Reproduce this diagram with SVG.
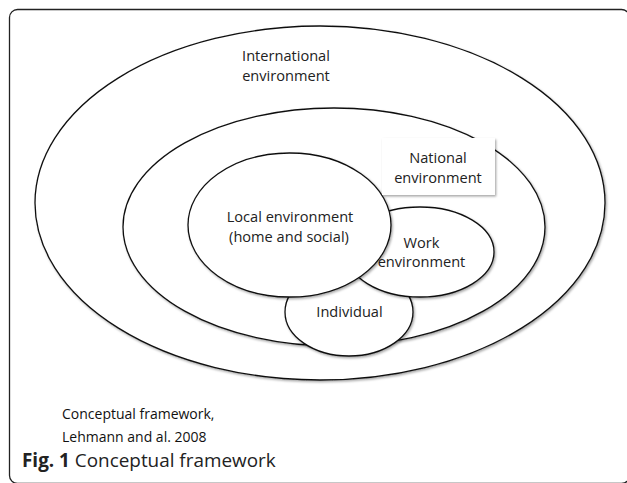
<svg xmlns="http://www.w3.org/2000/svg" width="627" height="483" viewBox="0 0 627 483">
<defs>
<filter id="sh" x="-10%" y="-10%" width="120%" height="120%">
<feDropShadow dx="1.2" dy="1.5" stdDeviation="0.8" flood-color="#000" flood-opacity="0.35"/>
</filter>
<style>
.e{fill:#fff;stroke:#111;stroke-width:1.3;filter:url(#sh)}
.t{font-family:"Open Sans","Liberation Sans",sans-serif;font-size:14.6px;fill:#222;text-anchor:middle}
.c{font-family:"Open Sans","Liberation Sans",sans-serif;font-size:14px;fill:#111}
.f{font-family:"Open Sans","Liberation Sans",sans-serif;font-size:18.9px;fill:#222}
</style>
</defs>
<rect x="9.5" y="9.5" width="620" height="474" rx="8" fill="#fff" stroke="#222" stroke-width="1.3"/>
<g id="international">
<ellipse class="e" cx="320" cy="203" rx="285" ry="177"/>
<text class="t" x="286" y="61">International</text>
<text class="t" x="286" y="81">environment</text>
</g>
<g id="national">
<ellipse class="e" cx="334" cy="227" rx="211" ry="119"/>
</g>
<g id="individual">
<ellipse class="e" cx="349" cy="312" rx="64" ry="44"/>
<text class="t" x="349.5" y="316.5">Individual</text>
</g>
<g id="work">
<ellipse class="e" cx="420" cy="252" rx="74" ry="45"/>
<text class="t" x="421.5" y="248">Work</text>
<text class="t" x="421.5" y="267">environment</text>
</g>
<g id="local">
<ellipse class="e" cx="289.5" cy="225" rx="101.5" ry="72"/>
<text class="t" x="290" y="222">Local environment</text>
<text class="t" x="289" y="242">(home and social)</text>
</g>
<g id="national-label">
<rect x="382" y="138" width="113" height="57" fill="#fff" filter="url(#sh)"/>
<text class="t" x="438" y="163">National</text>
<text class="t" x="438" y="183">environment</text>
</g>
<g id="caption">
<text class="c" x="62" y="419">Conceptual framework,</text>
<text class="c" x="62" y="442">Lehmann and al. 2008</text>
<text class="f" x="22" y="467"><tspan font-weight="bold">Fig. 1</tspan> Conceptual framework</text>
</g>
<g id="connectors"/>
</svg>
